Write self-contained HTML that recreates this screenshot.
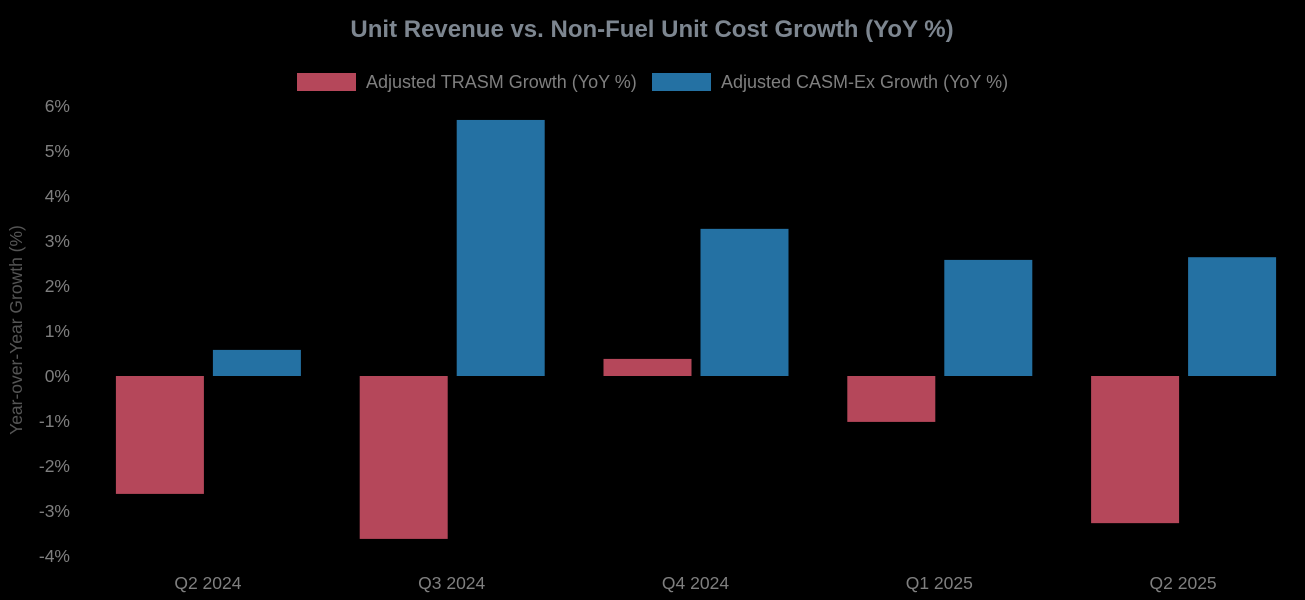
<!DOCTYPE html>
<html><head><meta charset="utf-8"><style>
html,body{margin:0;padding:0;background:#000;}
svg{display:block;font-family:"Liberation Sans",Arial,sans-serif;}
</style></head><body>
<svg id="chart" width="1305" height="600">
<text x="652" y="37" text-anchor="middle" font-size="24" font-weight="bold" fill="#7d8690">Unit Revenue vs. Non-Fuel Unit Cost Growth (YoY %)</text>
<g>
<g><rect x="297" y="73" width="59" height="18" fill="#b5475a"/><text x="366" y="88" font-size="18" fill="#7f7f7f">Adjusted TRASM Growth (YoY %)</text></g>
<g><rect x="652" y="73" width="59" height="18" fill="#2471a3"/><text x="721" y="88" font-size="18" fill="#7f7f7f">Adjusted CASM-Ex Growth (YoY %)</text></g>
</g>
<text transform="translate(22,330) rotate(-90)" text-anchor="middle" font-size="17.5" fill="#555">Year-over-Year Growth (%)</text>
<g id="yticks"></g>
<g id="xticks"></g>
<g id="bars"></g>
</svg>
<script>
const categories=["Q2 2024","Q3 2024","Q4 2024","Q1 2025","Q2 2025"];
const trasm=[-2.62,-3.62,0.38,-1.02,-3.27];
const casm=[0.58,5.69,3.27,2.58,2.64];
const yTicks=[6,5,4,3,2,1,0,-1,-2,-3,-4];
const ns="http://www.w3.org/2000/svg";
const y=v=>376-v*45;
const x0=86,step=243.8;
const cx=i=>x0+step*(i+0.5);
const yt=document.getElementById('yticks');
yTicks.forEach(t=>{const e=document.createElementNS(ns,'text');
e.setAttribute('x',70);e.setAttribute('y',y(t)+6);e.setAttribute('text-anchor','end');
e.setAttribute('font-size','17.5');e.setAttribute('fill','#7f7f7f');e.textContent=t+'%';


yt.appendChild(e);});
const xt=document.getElementById('xticks');
categories.forEach((c,i)=>{const e=document.createElementNS(ns,'text');
e.setAttribute('x',cx(i));e.setAttribute('y',589);e.setAttribute('text-anchor','middle');
e.setAttribute('font-size','17.5');e.setAttribute('fill','#7f7f7f');e.textContent=c;


xt.appendChild(e);});
const bg=document.getElementById('bars');
function bar(v,xl,color,name){const r=document.createElementNS(ns,'rect');
const a=y(Math.max(v,0)),b=y(Math.min(v,0));
r.setAttribute('x',xl);r.setAttribute('y',a);r.setAttribute('width',88);r.setAttribute('height',b-a);
r.setAttribute('fill',color);


bg.appendChild(r);}
categories.forEach((c,i)=>{bar(trasm[i],cx(i)-92,'#b5475a','bar-trasm');bar(casm[i],cx(i)+5,'#2471a3','bar-casm');});
</script>
</body></html>
